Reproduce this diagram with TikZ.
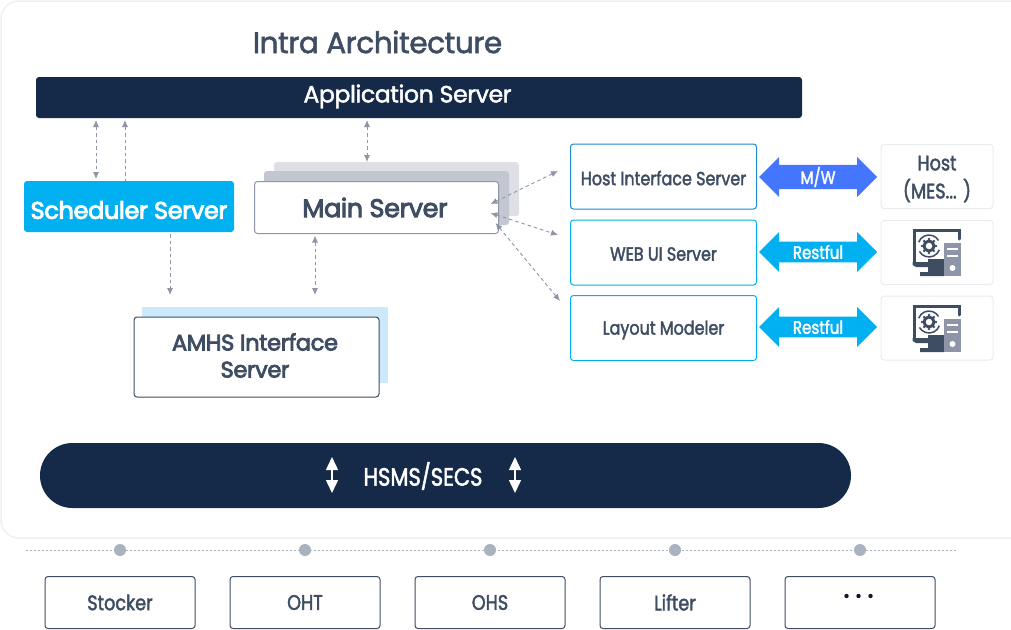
\documentclass[tikz,border=0pt]{standalone}
\usepackage{fontspec}
\setmainfont{Poppins}[FakeBold=2,LetterSpace=-1.5]
\newfontfamily\heavyfont{Poppins}[FakeBold=3.5,LetterSpace=-1.5]
\newfontfamily\narrowfont{Poppins}[FakeStretch=0.84,FakeBold=2]
\usetikzlibrary{shapes.arrows,arrows.meta}
\definecolor{navy}{HTML}{152949}
\definecolor{sky}{HTML}{00B0F0}
\definecolor{ink}{HTML}{3F4D63}
\definecolor{slate}{HTML}{8E95A8}
\definecolor{hostblue}{HTML}{1E88D0}
\definecolor{mwblue}{HTML}{4476FF}
\definecolor{frame}{HTML}{EEF0F2}
\definecolor{tileedge}{HTML}{E9ECEF}
\definecolor{backone}{HTML}{C3C7D2}
\definecolor{backtwo}{HTML}{DFE0E6}
\definecolor{paleblue}{HTML}{CBE9FB}
\definecolor{dotgray}{HTML}{A9B2BF}
\tikzset{
  x=1pt,y=-1pt,
  plain/.style={inner sep=0pt,outer sep=0pt,rounded corners=3pt,align=center},
  bar/.style={plain,fill=navy,text=white},
  backcard/.style={plain,fill=#1},
  card/.style={plain,draw=ink,line width=1pt,fill=white,text=ink},
  service/.style={plain,draw=sky,line width=1pt,fill=white,text=ink,minimum width=186pt,minimum height=65pt},
  svclabel/.style={text=ink,inner sep=0pt,font=\narrowfont\fontsize{19}{22}\selectfont},
  tile/.style={plain,draw=tileedge,line width=1pt,fill=white,text=ink,minimum width=112pt,minimum height=64pt},
  device/.style={plain,draw=ink,line width=1pt,fill=white,text=ink,minimum width=150pt,minimum height=52pt,font=\narrowfont\fontsize{21}{24}\selectfont},
  link/.style={draw=slate,line width=.9pt,dash pattern=on 3.5pt off 3pt,{Latex[length=7pt,width=6pt]}-{Latex[length=7pt,width=6pt]}},
  uplink/.style={draw=slate,line width=.9pt,dash pattern=on 3.5pt off 3pt,{Latex[length=7pt,width=6pt]}-},
  downlink/.style={draw=slate,line width=.9pt,dash pattern=on 3.5pt off 3pt,-{Latex[length=7pt,width=6pt]}},
  proto/.style={double arrow,double arrow head extend=6.5pt,double arrow tip angle=90,inner sep=0pt,outer sep=0pt,minimum height=118pt,minimum width=40pt,fill=#1,text=white,font=\narrowfont\fontsize{18}{20}\selectfont},
  whitearrow/.style={draw=white,line width=1.4pt,{Triangle[length=13pt,width=12pt]}-{Triangle[length=13pt,width=12pt]}},
  tap/.style={circle,fill=dotgray,inner sep=0pt,minimum size=12pt},
  pics/pcicon/.style={code={
    \draw[ink,line width=3pt,line cap=round] (-17,14) -- (-17,-18) -- (28,-18) -- (28,-9);
    \fill[ink] (-18.5,14) -- (-3,14) -- (-3,11) -- (13,11) -- (13,28) -- (-11,28) -- (-11,24) -- (-3,24) -- (-3,19) -- (-15,19) -- (-18.5,17) -- cycle;
    \fill[slate] (12.5,-5) rectangle (30,28);
    \fill[white] (16,0) rectangle (26.5,2.2);
    \fill[white] (16,7) rectangle (26.5,9.2);
    \fill[white] (21.5,20) circle[radius=3];
    \draw[ink,line width=3pt] (-2,-2) circle[radius=5];
    \foreach \a in {0,45,...,315}{\fill[ink] (-2,-2) ++(\a:7) circle[radius=1.3];}
    \draw[ink,line width=1.5pt] (-2,-2) ++(20:11) arc[start angle=20,end angle=150,radius=11];
    \draw[ink,line width=1.5pt] (-2,-2) ++(200:11) arc[start angle=200,end angle=330,radius=11];
  }},
}
\begin{document}
\begin{tikzpicture}
\useasboundingbox (0,0) rectangle (1011,629);
\fill[white] (0,0) rectangle (1011,629);
\draw[frame,line width=1.5pt,rounded corners=18pt,fill=white] (1,1) rectangle (1030,538);

\node[text=ink,inner sep=0pt,font=\fontsize{29.5}{32}\selectfont] (title) at (377.5,42) {Intra Architecture};
\node[bar,minimum width=766pt,minimum height=41pt] (app) at (419,97.5) {};
\node[text=white,inner sep=0pt,font=\fontsize{23.5}{26}\selectfont] (applabel) at (407.5,96.5) {Application Server};

\node[plain,fill=sky,minimum width=210pt,minimum height=51pt] (sch) at (129,206.5) {};
\node[text=white,inner sep=0pt,font=\heavyfont\fontsize{24}{28}\selectfont] (schlabel) at (129,210) {Scheduler Server};

\node[backcard=backtwo,minimum width=245pt,minimum height=54pt] (backB) at (396.5,189) {};
\node[backcard=backone,minimum width=245pt,minimum height=54pt] (backA) at (386.5,198) {};
\node[card,draw=slate,minimum width=244pt,minimum height=52pt] (main) at (376.5,207.5) {};
\node[text=ink,inner sep=0pt,font=\heavyfont\fontsize{25.5}{28}\selectfont] (mainlabel) at (375,207.5) {Main Server};

\node[backcard=paleblue,rounded corners=0pt,minimum width=246pt,minimum height=76pt] (amhsback) at (265,345) {};
\node[card,minimum width=245pt,minimum height=80pt] (amhs) at (256.5,357) {};
\node[text=ink,inner sep=0pt,align=center,font=\heavyfont\fontsize{22.5}{27}\selectfont] (amhslabel) at (255,355.5) {AMHS Interface\\Server};

\node[service,draw=hostblue] (hif) at (663.5,176.5) {};
\node[service] (web) at (663.5,252.5) {};
\node[service] (lay) at (663.5,328) {};
\node[svclabel] (hiflabel) at (663.5,178) {Host Interface Server};
\node[svclabel] (weblabel) at (663.5,254) {WEB UI Server};
\node[svclabel] (laylabel) at (663.5,330) {Layout Modeler};

\node[tile] (host) at (937,176.5) {};
\node[text=ink,inner sep=0pt,align=center,font=\narrowfont\fontsize{21}{28}\selectfont] (hostlabel) at (937,179) {Host\\(MES... )};
\node[tile] (pcA) at (937,252.5) {};
\node[tile] (pcB) at (937,328) {};
\pic at (931,248) {pcicon};
\pic at (931,324) {pcicon};

\node[proto=mwblue] (mw) at (818,177) {M/W};
\node[proto=sky] (restA) at (818,252) {Restful};
\node[proto=sky] (restB) at (818,327) {Restful};

\draw[link,shorten <=2pt,shorten >=2pt] (96,0 |- app.south) -- (96,0 |- sch.north);
\draw[uplink,shorten <=2pt] (125,0 |- app.south) -- (125,0 |- sch.north);
\draw[link,shorten <=2pt,shorten >=0pt] (367,0 |- app.south) -- (367,0 |- backB.north);
\draw[downlink,shorten <=2pt,shorten >=12pt] (170,0 |- sch.south) -- (170,0 |- amhsback.north);
\draw[link,shorten <=2pt,shorten >=12pt] (315,0 |- main.south) -- (315,0 |- amhsback.north);
\draw[link] ([shift={(-8,-3.5)}]main.east) -- ([shift={(-12.5,-5.5)}]hif.west);
\draw[link] ([shift={(-8,5.5)}]main.east) -- ([shift={(-12.5,-17.5)}]web.west);
\draw[link] ([shift={(-3,15.5)}]main.east) -- ([shift={(-10.5,-27)}]lay.west);

\node[bar,rounded corners=32.5pt,minimum width=811pt,minimum height=65pt] (hsms) at (445.5,475.5) {};
\node[text=white,inner sep=0pt,font=\narrowfont\fontsize{25}{28}\selectfont] (hsmslabel) at (423,476) {HSMS/SECS};
\coordinate (aTop) at (332,457);
\coordinate (aBot) at (332,493);
\coordinate (bTop) at (515,457);
\coordinate (bBot) at (515,493);
\draw[whitearrow] (aTop) -- (aBot);
\draw[whitearrow] (bTop) -- (bBot);

\coordinate (busL) at (26,550);
\coordinate (busR) at (956,550);
\draw[dotgray,line width=1pt,dash pattern=on 2pt off 2pt] (busL) -- (busR);
\foreach \n/\x in {tapA/120,tapB/305,tapC/490,tapD/675,tapE/860}{\node[tap] (\n) at (\x,550) {};}

\node[device] (stocker) at (120,602.5) {Stocker};
\node[device] (oht) at (305,602.5) {OHT};
\node[device] (ohs) at (490,602.5) {OHS};
\node[device] (lifter) at (675,602.5) {Lifter};
\node[device] (more) at (860,602.5) {};
\foreach \x in {-12,0,12}{\fill[navy!60!black] ([xshift=\x pt,yshift=6.5pt]more.center) ++(-1.5,0) circle[radius=2.2pt];}
\end{tikzpicture}
\end{document}
